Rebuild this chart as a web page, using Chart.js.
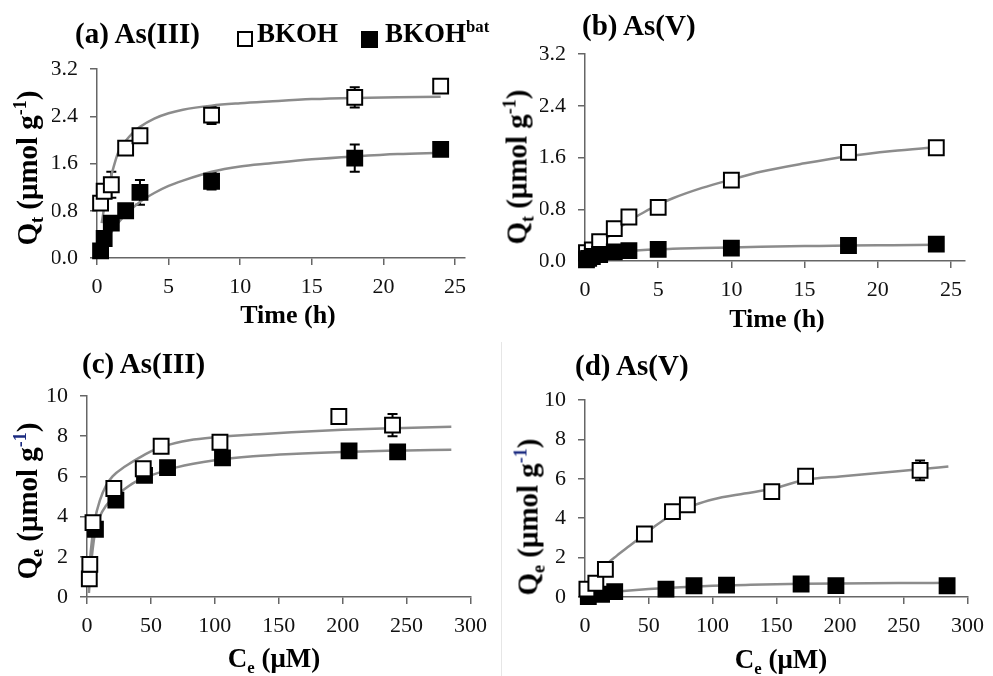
<!DOCTYPE html>
<html>
<head>
<meta charset="utf-8">
<script src="https://cdn.jsdelivr.net/npm/chart.js@4.4.1/dist/chart.umd.min.js"></script>
<style>
html,body{margin:0;padding:0;background:#fff;}
#wrap{position:relative;width:993px;height:676px;overflow:hidden;background:#fff;font-family:"Liberation Serif","Times New Roman",serif;}
canvas{position:absolute;}
.t{position:absolute;font-weight:bold;line-height:1;white-space:nowrap;color:#000;z-index:2;}
.cx{transform:translateX(-50%);}
.rot{transform:translate(-50%,-50%) rotate(-90deg);}
sub,sup{font-size:62%;line-height:0;}
.sq{position:absolute;box-sizing:border-box;border:2px solid #000;z-index:2;}
#sep{position:absolute;left:501px;top:342px;width:1px;height:334px;background:#e6e6e6;}
</style>
</head>
<body>
<div id="wrap">
  <div id="sep"></div>
  <canvas id="cA" width="496" height="338" style="left:0;top:0"></canvas>
  <canvas id="cB" width="497" height="338" style="left:496px;top:0"></canvas>
  <canvas id="cC" width="496" height="338" style="left:0;top:338px"></canvas>
  <canvas id="cD" width="497" height="338" style="left:496px;top:338px"></canvas>

  <div class="t" style="left:75px;top:19px;font-size:29px">(a) As(III)</div>
  <div class="sq" style="left:237px;top:31px;width:16px;height:16px;background:#fff"></div>
  <div class="t" style="left:257px;top:20px;font-size:27px">BKOH</div>
  <div class="sq" style="left:361px;top:31px;width:17px;height:17px;background:#000"></div>
  <div class="t" style="left:385px;top:20px;font-size:27px">BKOH<sup>bat</sup></div>

  <div class="t" style="left:582px;top:11px;font-size:29px">(b) As(V)</div>
  <div class="t" style="left:82px;top:349px;font-size:29px">(c) As(III)</div>
  <div class="t" style="left:575px;top:351px;font-size:29px">(d) As(V)</div>

  <div class="t cx" style="left:288px;top:302px;font-size:26px">Time (h)</div>
  <div class="t cx" style="left:777px;top:306px;font-size:26px">Time (h)</div>
  <div class="t cx" style="left:274px;top:645px;font-size:27px">C<sub>e</sub> (μM)</div>
  <div class="t cx" style="left:781px;top:646px;font-size:27px">C<sub>e</sub> (μM)</div>

  <div class="t rot" style="left:27px;top:168px;font-size:29px">Q<sub>t</sub> (μmol g<sup>-1</sup>)</div>
  <div class="t rot" style="left:517px;top:167px;font-size:29px">Q<sub>t</sub> (μmol g<sup>-1</sup>)</div>
  <div class="t rot" style="left:27px;top:501px;font-size:29px">Q<sub>e</sub> (μmol g<sup style="color:#1a2a80">-1</sup>)</div>
  <div class="t rot" style="left:528px;top:517px;font-size:29px">Q<sub>e</sub> (μmol g<sup style="color:#1a2a80">-1</sup>)</div>
</div>
<script>
// ---------- tick values ----------
const ticksTime = [0, 5, 10, 15, 20, 25];
const ticksQt = [0, 0.8, 1.6, 2.4, 3.2];
const ticksCe = [0, 50, 100, 150, 200, 250, 300];
const ticksQe = [0, 2, 4, 6, 8, 10];

// ---------- (a) As(III) kinetics ----------
const timeA_BKOH = [0.25, 0.5, 1, 2, 3, 8, 18, 24];
const qtA_BKOH = [0.93, 1.13, 1.24, 1.86, 2.07, 2.42, 2.72, 2.91];
const errA_BKOH = [0, 0, 0.22, 0, 0, 0.15, 0.17, 0];
const timeA_BKOHbat = [0.25, 0.5, 1, 2, 3, 8, 18, 24];
const qtA_BKOHbat = [0.12, 0.33, 0.59, 0.80, 1.11, 1.30, 1.69, 1.84];
const errA_BKOHbat = [0, 0, 0, 0, 0.21, 0.14, 0.23, 0];
const fitTimeA = [0.33, 0.5, 0.75, 1, 1.5, 2, 2.5, 3, 4, 5, 6, 8, 10, 12, 15, 18, 21, 24];
const fitA_BKOH = [0.59, 0.85, 1.15, 1.40, 1.80, 1.98, 2.12, 2.22, 2.36, 2.45, 2.51, 2.58, 2.62, 2.65, 2.69, 2.71, 2.72, 2.73];
const fitA_BKOHbat = [0.17, 0.24, 0.34, 0.44, 0.60, 0.74, 0.85, 0.95, 1.10, 1.22, 1.31, 1.46, 1.55, 1.60, 1.67, 1.72, 1.76, 1.78];

// ---------- (b) As(V) kinetics ----------
const timeB_BKOH = [0.1, 0.5, 1, 2, 3, 5, 10, 18, 24];
const qtB_BKOH = [0.13, 0.17, 0.30, 0.50, 0.68, 0.83, 1.25, 1.68, 1.75];
const timeB_BKOHbat = [0.1, 0.25, 0.5, 1, 2, 3, 5, 10, 18, 24];
const qtB_BKOHbat = [0.02, 0.04, 0.07, 0.10, 0.14, 0.16, 0.18, 0.20, 0.24, 0.26];
const fitTimeB = [0.1, 0.5, 1, 2, 3, 4, 5, 6, 8, 10, 12, 15, 18, 21, 24];
const fitB_BKOH = [0.03, 0.12, 0.25, 0.45, 0.62, 0.75, 0.87, 0.97, 1.13, 1.26, 1.38, 1.51, 1.62, 1.70, 1.76];
const fitB_BKOHbat = [0.01, 0.05, 0.09, 0.13, 0.15, 0.17, 0.18, 0.19, 0.20, 0.21, 0.22, 0.23, 0.24, 0.245, 0.25];

// ---------- (c) As(III) isotherm ----------
const ceC_BKOH = [1.8, 2.2, 4.7, 21, 44, 58, 104, 197, 239];
const qeC_BKOH = [0.9, 1.62, 3.7, 5.4, 6.38, 7.5, 7.7, 8.98, 8.55];
const errC_BKOH = [0, 0, 0, 0, 0, 0, 0, 0, 0.55];
const ceC_BKOHbat = [6.6, 22.6, 45, 63, 106, 205, 243];
const qeC_BKOHbat = [3.37, 4.82, 6.05, 6.44, 6.92, 7.27, 7.22];
const fitCeC_BKOH = [0.8, 2, 4, 6, 10, 15, 20, 30, 40, 50, 60, 80, 100, 130, 160, 200, 240, 285];
const fitC_BKOH = [0.5, 1.6, 2.9, 3.8, 4.8, 5.55, 6.0, 6.5, 6.9, 7.25, 7.5, 7.8, 7.95, 8.08, 8.2, 8.32, 8.4, 8.47];
const fitCeC_BKOHbat = [1.5, 3, 6, 10, 15, 20, 30, 40, 50, 70, 100, 130, 160, 200, 240, 285];
const fitC_BKOHbat = [0.2, 1.5, 3.1, 4.0, 4.55, 4.9, 5.4, 5.8, 6.05, 6.45, 6.8, 7.0, 7.12, 7.22, 7.28, 7.33];

// ---------- (d) As(V) isotherm ----------
const ceD_BKOH = [1.5, 8.5, 16, 46.6, 68.6, 80.3, 146.5, 173, 262.8];
const qeD_BKOH = [0.4, 0.7, 1.4, 3.2, 4.33, 4.68, 5.35, 6.13, 6.43];
const errD_BKOH = [0, 0, 0, 0, 0, 0, 0, 0, 0.5];
const ceD_BKOHbat = [2.6, 13, 23.3, 63.5, 85.5, 111, 169.5, 196.8, 284];
const qeD_BKOHbat = [0.02, 0.14, 0.27, 0.40, 0.57, 0.60, 0.66, 0.58, 0.57];
const fitCeD_BKOH = [1, 5, 10, 17, 25, 35, 45, 55, 65, 75, 85, 100, 125, 146, 173, 200, 230, 262, 285];
const fitD_BKOH = [0.3, 0.6, 1.0, 1.65, 2.1, 2.6, 3.1, 3.6, 4.05, 4.4, 4.65, 4.95, 5.25, 5.48, 5.95, 6.12, 6.3, 6.48, 6.62];
const fitCeD_BKOHbat = [1, 5, 10, 20, 30, 50, 75, 100, 130, 170, 200, 250, 285];
const fitD_BKOHbat = [0.02, 0.08, 0.14, 0.24, 0.30, 0.40, 0.50, 0.57, 0.62, 0.67, 0.69, 0.71, 0.72];

// ---------- helpers ----------
const pts = (xs, ys) => xs.map((x, i) => ({x: x, y: ys[i]}));

const errorBars = {
  id: 'errorBars',
  beforeDatasetsDraw(chart) {
    const ctx = chart.ctx, xs = chart.scales.x, ys = chart.scales.y;
    ctx.save();
    ctx.strokeStyle = '#000';
    ctx.lineWidth = 2;
    chart.data.datasets.forEach(ds => {
      if (!ds.errors) return;
      ds.data.forEach((p, i) => {
        const e = ds.errors[i];
        if (!e) return;
        const x = xs.getPixelForValue(p.x);
        const y1 = ys.getPixelForValue(p.y + e);
        const y2 = ys.getPixelForValue(p.y - e);
        ctx.beginPath();
        ctx.moveTo(x, y1); ctx.lineTo(x, y2);
        ctx.moveTo(x - 5, y1); ctx.lineTo(x + 5, y1);
        ctx.moveTo(x - 5, y2); ctx.lineTo(x + 5, y2);
        ctx.stroke();
      });
    });
    ctx.restore();
  }
};

const tickFont = {family: 'Liberation Serif', size: 22};
const axisCol = '#666';

function panel(id, o) {
  new Chart(document.getElementById(id), {
    type: 'scatter',
    data: {
      datasets: [
        {label: 'BKOH', data: pts(o.x1, o.y1), errors: o.e1, pointStyle: 'rect', pointRadius: 10.5,
         borderWidth: 2, borderColor: '#000', backgroundColor: '#fff', clip: false, order: o.openTop ? 0 : 1},
        {label: 'BKOHbat', data: pts(o.x2, o.y2), errors: o.e2, pointStyle: 'rect', pointRadius: 10.5,
         borderWidth: 2, borderColor: '#000', backgroundColor: '#000', clip: false, order: o.openTop ? 1 : 0},
        {label: 'fit BKOH', data: pts(o.fx1, o.fy1), showLine: true, pointRadius: 0, borderColor: '#8c8c8c',
         borderWidth: 2.5, cubicInterpolationMode: 'monotone', clip: false, order: 5},
        {label: 'fit BKOHbat', data: pts(o.fx2, o.fy2), showLine: true, pointRadius: 0, borderColor: '#8c8c8c',
         borderWidth: 2.5, cubicInterpolationMode: 'monotone', clip: false, order: 6}
      ]
    },
    options: {
      responsive: false, animation: false, devicePixelRatio: 1,
      layout: {padding: o.pad},
      plugins: {legend: {display: false}, tooltip: {enabled: false}},
      scales: {
        x: {
          type: 'linear', min: o.xmin, max: o.xmax,
          afterBuildTicks: s => { s.ticks = o.xt.map(v => ({value: v})); },
          afterFit: s => { s.height = 40; },
          ticks: {font: tickFont, color: '#111', padding: 9, maxRotation: 0, autoSkip: false, callback: v => String(v)},
          grid: {drawOnChartArea: false, drawTicks: true, tickLength: 7, color: axisCol, lineWidth: 1.5},
          border: {display: true, color: axisCol, width: 1.5}
        },
        y: {
          type: 'linear', min: o.ymin, max: o.ymax,
          afterBuildTicks: s => { s.ticks = o.yt.map(v => ({value: v})); },
          afterFit: s => { s.width = 45; },
          ticks: {font: tickFont, color: '#111', padding: 12, autoSkip: false, callback: v => o.yfmt(v)},
          grid: {drawOnChartArea: false, drawTicks: true, tickLength: 7, color: axisCol, lineWidth: 1.5},
          border: {display: true, color: axisCol, width: 1.5}
        }
      }
    },
    plugins: [errorBars]
  });
}

function drawAll() {
  panel('cA', {
    x1: timeA_BKOH, y1: qtA_BKOH, e1: errA_BKOH,
    x2: timeA_BKOHbat, y2: qtA_BKOHbat, e2: errA_BKOHbat,
    fx1: fitTimeA, fy1: fitA_BKOH, fx2: fitTimeA, fy2: fitA_BKOHbat,
    xmin: 0, xmax: 25.7, ymin: 0, ymax: 3.2, xt: ticksTime, yt: ticksQt,
    yfmt: v => v.toFixed(1), openTop: false,
    pad: {left: 52, top: 69, right: 31, bottom: 40}
  });
  panel('cB', {
    x1: timeB_BKOH, y1: qtB_BKOH, e1: null,
    x2: timeB_BKOHbat, y2: qtB_BKOHbat, e2: null,
    fx1: fitTimeB, fy1: fitB_BKOH, fx2: fitTimeB, fy2: fitB_BKOHbat,
    xmin: 0, xmax: 25.96, ymin: 0, ymax: 3.2, xt: ticksTime, yt: ticksQt,
    yfmt: v => v.toFixed(1), openTop: false,
    pad: {left: 44, top: 54, right: 28, bottom: 37}
  });
  panel('cC', {
    x1: ceC_BKOH, y1: qeC_BKOH, e1: errC_BKOH,
    x2: ceC_BKOHbat, y2: qeC_BKOHbat, e2: null,
    fx1: fitCeC_BKOH, fy1: fitC_BKOH, fx2: fitCeC_BKOHbat, fy2: fitC_BKOHbat,
    xmin: 0, xmax: 300, ymin: 0, ymax: 10, xt: ticksCe, yt: ticksQe,
    yfmt: v => String(v), openTop: true,
    pad: {left: 42, top: 58, right: 23, bottom: 39}
  });
  panel('cD', {
    x1: ceD_BKOH, y1: qeD_BKOH, e1: errD_BKOH,
    x2: ceD_BKOHbat, y2: qeD_BKOHbat, e2: null,
    fx1: fitCeD_BKOH, fy1: fitD_BKOH, fx2: fitCeD_BKOHbat, fy2: fitD_BKOHbat,
    xmin: 0, xmax: 300, ymin: 0, ymax: 10, xt: ticksCe, yt: ticksQe,
    yfmt: v => String(v), openTop: true,
    pad: {left: 44, top: 62, right: 19, bottom: 39}
  });
}

if (document.fonts && document.fonts.load) {
  document.fonts.load('22px "Liberation Serif"').then(drawAll, drawAll);
} else {
  drawAll();
}
</script>
</body>
</html>
